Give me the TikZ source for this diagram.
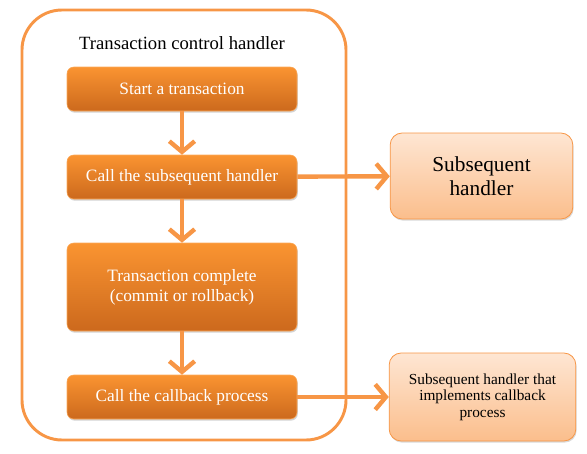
\documentclass[tikz,border=0pt]{standalone}
\usepackage{fontspec}
\setmainfont{Liberation Serif}
\usetikzlibrary{arrows.meta, shadows}
\definecolor{accent}{HTML}{F79646}
\definecolor{steptop}{HTML}{FA9431}
\definecolor{stepbottom}{HTML}{CC691D}
\definecolor{handtop}{HTML}{FEE6D3}
\definecolor{handbottom}{HTML}{FBBE8C}
\begin{document}
\begin{tikzpicture}[x=0.75pt, y=-0.75pt]
    \tikzset{stepbox/.style={rounded corners=5pt, top color=steptop, bottom color=stepbottom,
        draw=steptop!80!white, line width=0.4pt, text=white, font=\fontsize{13}{15}\selectfont,
        minimum width=172.5pt, align=center,
        drop shadow={opacity=0.35, shadow xshift=0.6pt, shadow yshift=-1.2pt}}};
    \tikzset{handbox/.style={rounded corners=9pt, top color=handtop, bottom color=handbottom,
        draw=accent, line width=0.6pt, align=center,
        drop shadow={opacity=0.3, shadow xshift=0.6pt, shadow yshift=-1.2pt}}};
    \tikzset{flow/.style={draw=accent, line width=3.3pt, -{Straight Barb[length=8pt, width=19pt]}}};

    \useasboundingbox (0, 0) rectangle (587, 454);

    % Transaction control handler
    \draw [accent, line width=2.2pt, rounded corners=30pt] (22, 10) rectangle (346, 440);
    \node (title) at (182, 43) {\fontsize{14}{16}\selectfont Transaction control handler};

    % Steps
    \node [stepbox, minimum height=33pt] (s1) at (182, 89) {Start a transaction};
    \node [stepbox, minimum height=33pt] (s2) at (182, 177) {Call the subsequent handler};
    \node [stepbox, minimum height=66pt] (s3) at (182, 287) {Transaction complete\\(commit or rollback)};
    \node [stepbox, minimum height=33pt] (s4) at (182, 397) {Call the callback process};

    % Handlers
    \node [handbox, minimum width=137pt, minimum height=64.5pt,
        font=\fontsize{16}{18}\selectfont] (h1) at (481.5, 176) {Subsequent\\handler};
    \node [handbox, minimum width=140pt, minimum height=66pt,
        font=\fontsize{11.5}{12.5}\selectfont] (h2) at (482.5, 397) {Subsequent handler that\\implements callback\\process};

    % Edges
    \foreach \i/\j in {1/2, 2/3, 3/4} { \draw [flow] (s\i) -- (s\j); }
    \draw [flow] (s2) -- (h1);
    \draw [flow] (s4) -- (h2);
  \end{tikzpicture}
\end{document}
